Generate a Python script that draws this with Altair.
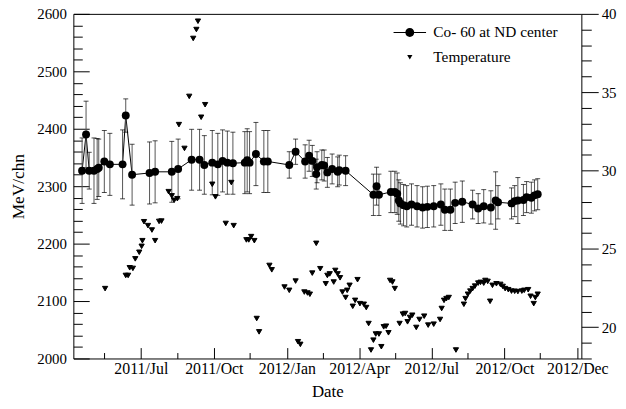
import altair as alt
import pandas as pd

co_dates = ["2011-04-18","2011-04-23","2011-04-27","2011-05-03","2011-05-07","2011-05-09","2011-05-16","2011-05-23",
            "2011-06-08","2011-06-12","2011-06-20","2011-07-12","2011-07-19","2011-08-09","2011-08-17","2011-09-03",
            "2011-09-13","2011-09-19","2011-09-29","2011-10-06","2011-10-12","2011-10-18","2011-10-25","2011-11-09",
            "2011-11-12","2011-11-15","2011-11-23","2011-12-03","2011-12-08",
            "2012-01-04","2012-01-12","2012-01-24","2012-01-29","2012-02-02","2012-02-07","2012-02-08","2012-02-14",
            "2012-02-17","2012-02-21","2012-02-27","2012-03-05","2012-03-07","2012-03-15",
            "2012-04-19","2012-04-23","2012-04-26","2012-05-11","2012-05-16","2012-05-19","2012-05-21","2012-05-23",
            "2012-05-27","2012-05-31","2012-06-06","2012-06-13","2012-06-20","2012-06-26","2012-07-04","2012-07-13",
            "2012-07-18","2012-07-25","2012-07-31","2012-08-09","2012-08-22","2012-08-29","2012-09-05","2012-09-14",
            "2012-09-20","2012-09-23","2012-10-10","2012-10-14","2012-10-18","2012-10-25","2012-10-29","2012-11-04",
            "2012-11-08","2012-11-12"]
co_values = [2327,2390,2327,2327,2330,2332,2343,2338,2338,2423,2320,2323,2325,2325,2330,2346,
             2346,2337,2341,2338,2344,2341,2340,2341,2345,2341,2356,2343,2343,
             2337,2360,2343,2353,2344,2321,2333,2337,2336,2324,2330,2325,2328,2327,
             2285,2300,2285,2290,2290,2287,2275,2270,2267,2265,2268,2265,2263,2264,2265,2268,
             2259,2259,2271,2273,2268,2261,2265,2263,2275,2272,2270,2274,2275,2276,2281,2280,
             2284,2286]
co_errors = [57,58,32,57,53,50,54,54,60,29,53,54,54,53,52,53,
             53,51,56,54,54,55,54,54,55,54,55,54,54,
             23,22,29,27,27,26,27,26,27,26,26,26,26,26,
             36,33,36,36,36,36,36,36,36,36,36,36,36,36,36,36,
             36,36,36,36,25,26,29,29,50,29,27,27,40,27,27,27,
             27,27]

temp_dates = ["2011-05-17","2011-06-12","2011-06-15","2011-06-17","2011-06-21","2011-06-24","2011-06-29","2011-07-02",
              "2011-07-03","2011-07-05","2011-07-10","2011-07-15","2011-07-19","2011-07-24","2011-07-27","2011-08-05",
              "2011-08-09","2011-08-12","2011-08-16","2011-08-18","2011-08-25","2011-08-31","2011-09-05","2011-09-09",
              "2011-09-11","2011-09-15","2011-09-20","2011-09-29","2011-10-03","2011-10-16","2011-10-23","2011-10-26",
              "2011-11-11","2011-11-14","2011-11-17","2011-11-21","2011-11-24","2011-11-27","2011-12-10","2011-12-13",
              "2011-12-29","2012-01-04","2012-01-12","2012-01-15","2012-01-18","2012-01-23","2012-01-27","2012-01-30",
              "2012-02-02","2012-02-07","2012-02-12","2012-02-19","2012-02-21","2012-02-24","2012-02-29","2012-03-02",
              "2012-03-05","2012-03-08","2012-03-11","2012-03-15","2012-03-17","2012-03-20","2012-03-24","2012-03-27",
              "2012-03-30","2012-04-02","2012-04-07","2012-04-10","2012-04-13","2012-04-16","2012-04-19","2012-04-22",
              "2012-04-26","2012-04-29","2012-05-02","2012-05-05","2012-05-08","2012-05-10","2012-05-13","2012-05-16",
              "2012-05-22","2012-05-26","2012-05-29","2012-06-01","2012-06-04","2012-06-07","2012-06-12","2012-06-16",
              "2012-06-22","2012-06-27","2012-07-04","2012-07-12","2012-07-14","2012-07-17","2012-07-20","2012-07-23",
              "2012-08-01","2012-08-11","2012-08-13","2012-08-16","2012-08-19","2012-08-22","2012-08-25","2012-08-29",
              "2012-09-01","2012-09-05","2012-09-07","2012-09-10","2012-09-13","2012-09-16","2012-09-21","2012-09-26",
              "2012-09-29","2012-10-02","2012-10-06","2012-10-10","2012-10-14","2012-10-18","2012-10-23","2012-10-26",
              "2012-10-31","2012-11-03","2012-11-07","2012-11-09","2012-11-12"]
temp_values = [22.46,23.3,23.3,23.79,23.75,24.36,24.78,25.16,
               25.52,26.73,26.48,26.2,25.52,26.75,26.77,28.65,
               28.38,28.1,28.2,32.93,31.41,34.73,38.43,39.0,
               39.53,33.4,34.2,29.12,28.32,26.62,29.23,26.48,
               25.57,25.57,25.78,25.52,20.55,19.7,23.94,23.66,
               22.56,22.35,22.94,19.07,18.9,22.24,22.18,22.1,
               23.45,25.35,23.73,22.77,23.3,23.4,22.88,23.62,
               23.4,23.15,22.24,21.89,22.35,22.67,21.33,21.71,
               23.03,21.5,21.46,21.25,20.23,18.54,19.17,19.56,
               19.56,18.75,20.02,20.06,19.64,22.98,22.88,22.46,
               20.23,20.83,20.87,20.34,20.62,20.76,19.98,20.49,
               20.7,20.13,20.19,20.49,21.19,21.71,21.82,21.89,
               18.54,21.46,21.82,22.1,22.3,22.46,22.62,22.81,
               22.86,22.81,22.98,22.92,21.65,22.67,22.77,22.73,
               22.6,22.46,22.39,22.3,22.29,22.27,22.3,22.35,
               22.39,21.97,21.5,21.89,22.1]

series_names = ["Co- 60 at ND center", "Temperature"]
legend_co_path = ("M-6.2,-0.2L-1.6,-0.2L-1.6,0.2L-6.2,0.2Z"
                  "M1.6,-0.2L6.2,-0.2L6.2,0.2L1.6,0.2Z"
                  "M1.7,0A1.7,1.7,0,1,1,-1.7,0A1.7,1.7,0,1,1,1.7,0Z")

co = pd.DataFrame({"date": [d + "T00:00:00" for d in co_dates], "value": co_values, "err": co_errors})
co["lo"] = co["value"] - co["err"]
co["hi"] = co["value"] + co["err"]
temp = pd.DataFrame({"date": [d + "T00:00:00" for d in temp_dates], "temp": temp_values,
                     "series": series_names[1]})

FONT = "Liberation Serif"

x_major = [alt.DateTime(year=2011, month=7, date=1), alt.DateTime(year=2011, month=10, date=1),
           alt.DateTime(year=2012, month=1, date=1), alt.DateTime(year=2012, month=4, date=1),
           alt.DateTime(year=2012, month=7, date=1), alt.DateTime(year=2012, month=10, date=1),
           alt.DateTime(year=2012, month=12, date=31, hours=23)]
x_minor = [alt.DateTime(year=2011, month=5, date=16), alt.DateTime(year=2011, month=8, date=16),
           alt.DateTime(year=2011, month=11, date=15), alt.DateTime(year=2012, month=2, date=15),
           alt.DateTime(year=2012, month=5, date=16), alt.DateTime(year=2012, month=8, date=16),
           alt.DateTime(year=2012, month=11, date=15)]

is_major_x = "(date(datum.value) < 3 || date(datum.value) > 28)"
x_enc = alt.X("date:T", title="Date",
              scale=alt.Scale(domain=[alt.DateTime(year=2011, month=4, date=7),
                                      alt.DateTime(year=2013, month=1, date=6)]),
              axis=alt.Axis(values=x_major + x_minor, format="%Y/%b",
                            labelExpr=is_major_x + " ? datum.label : ''",
                            tickSize=alt.ExprRef(expr="(" + is_major_x + " ? -11 : -6)"),
                            labelPadding=13, labelOverlap=False, labelFlush=False,
                            labelFont=FONT, labelFontSize=16, titleFont=FONT, titleFontSize=17,
                            titleFontWeight="normal", titlePadding=2))

left_scale = alt.Scale(domain=[2000, 2600], nice=False, zero=False)
left_axis = alt.Axis(values=list(range(2000, 2601, 20)), format="d",
                     labelExpr="datum.value % 100 === 0 ? datum.label : ''",
                     ticks=True, tickColor="black", tickWidth=1, tickOpacity=1,
                     tickSize=alt.ExprRef(expr="((datum.value % 100 === 0) ? -16 : -9)"),
                     labelPadding=23, labelOverlap=False, orient="left",
                     labelFont=FONT, labelFontSize=15, titleFont=FONT, titleFontSize=17.5,
                     titleFontWeight="normal", titlePadding=9)


def yl(field):
    return alt.Y(field, title="MeV/chn", scale=left_scale, axis=left_axis)


base = alt.Chart(co)
line = base.mark_line(color="black", strokeWidth=1).encode(x=x_enc, y=yl("value:Q"))
bars = base.mark_rule(color="#555555", strokeWidth=1).encode(x=x_enc, y=yl("lo:Q"), y2="hi:Q")
cap_lo = base.mark_tick(color="black", orient="horizontal", size=5, thickness=1).encode(
    x=x_enc, y=yl("lo:Q"))
cap_hi = base.mark_tick(color="black", orient="horizontal", size=5, thickness=1).encode(
    x=x_enc, y=yl("hi:Q"))
points = base.mark_circle(size=64, color="black", opacity=1).encode(x=x_enc, y=yl("value:Q"))

co_layer = alt.layer(line, bars, cap_lo, cap_hi, points)

temp_layer = alt.Chart(temp).mark_point(filled=False, fill="black", stroke="black", strokeWidth=1,
                                        size=28, opacity=1).encode(
    x=x_enc,
    y=alt.Y("temp:Q", title=None,
            scale=alt.Scale(domain=[18, 40], nice=False, zero=False),
            axis=alt.Axis(values=list(range(18, 41)), orient="right",
                          labelExpr="datum.value % 5 === 0 ? datum.label : ''",
                          tickSize=alt.ExprRef(expr="((datum.value % 5 === 0) ? 17 : 10)"),
                          labelPadding=3, labelOverlap=False, labelFont=FONT, labelFontSize=15)),
    shape=alt.Shape("series:N",
                    scale=alt.Scale(domain=series_names, range=[legend_co_path, "triangle-down"]),
                    legend=alt.Legend(title=None, orient="none", legendX=332, legendY=11,
                                      labelFont=FONT, labelFontSize=15.5, labelColor="black",
                                      symbolSize=28, labelOffset=16, rowPadding=8, padding=0,
                                      symbolStrokeColor="black", symbolFillColor="black",
                                      symbolStrokeWidth=1, symbolOpacity=1)),
)

chart = alt.layer(co_layer, temp_layer).resolve_scale(y="independent").properties(
    width=513, height=348,
    autosize=alt.AutoSizeParams(type="none"),
    padding={"left": 66, "top": 4, "right": 37, "bottom": 41},
).configure_view(stroke="black", strokeWidth=1).configure_axis(
    labelFont=FONT, labelColor="black",
    titleFont=FONT, titleFontWeight="normal", titleColor="black",
    tickColor="black", tickWidth=1, domain=False, grid=False,
).configure_legend(labelFont=FONT)

chart.save("out.html", embed_options={"renderer": "svg", "actions": False})
